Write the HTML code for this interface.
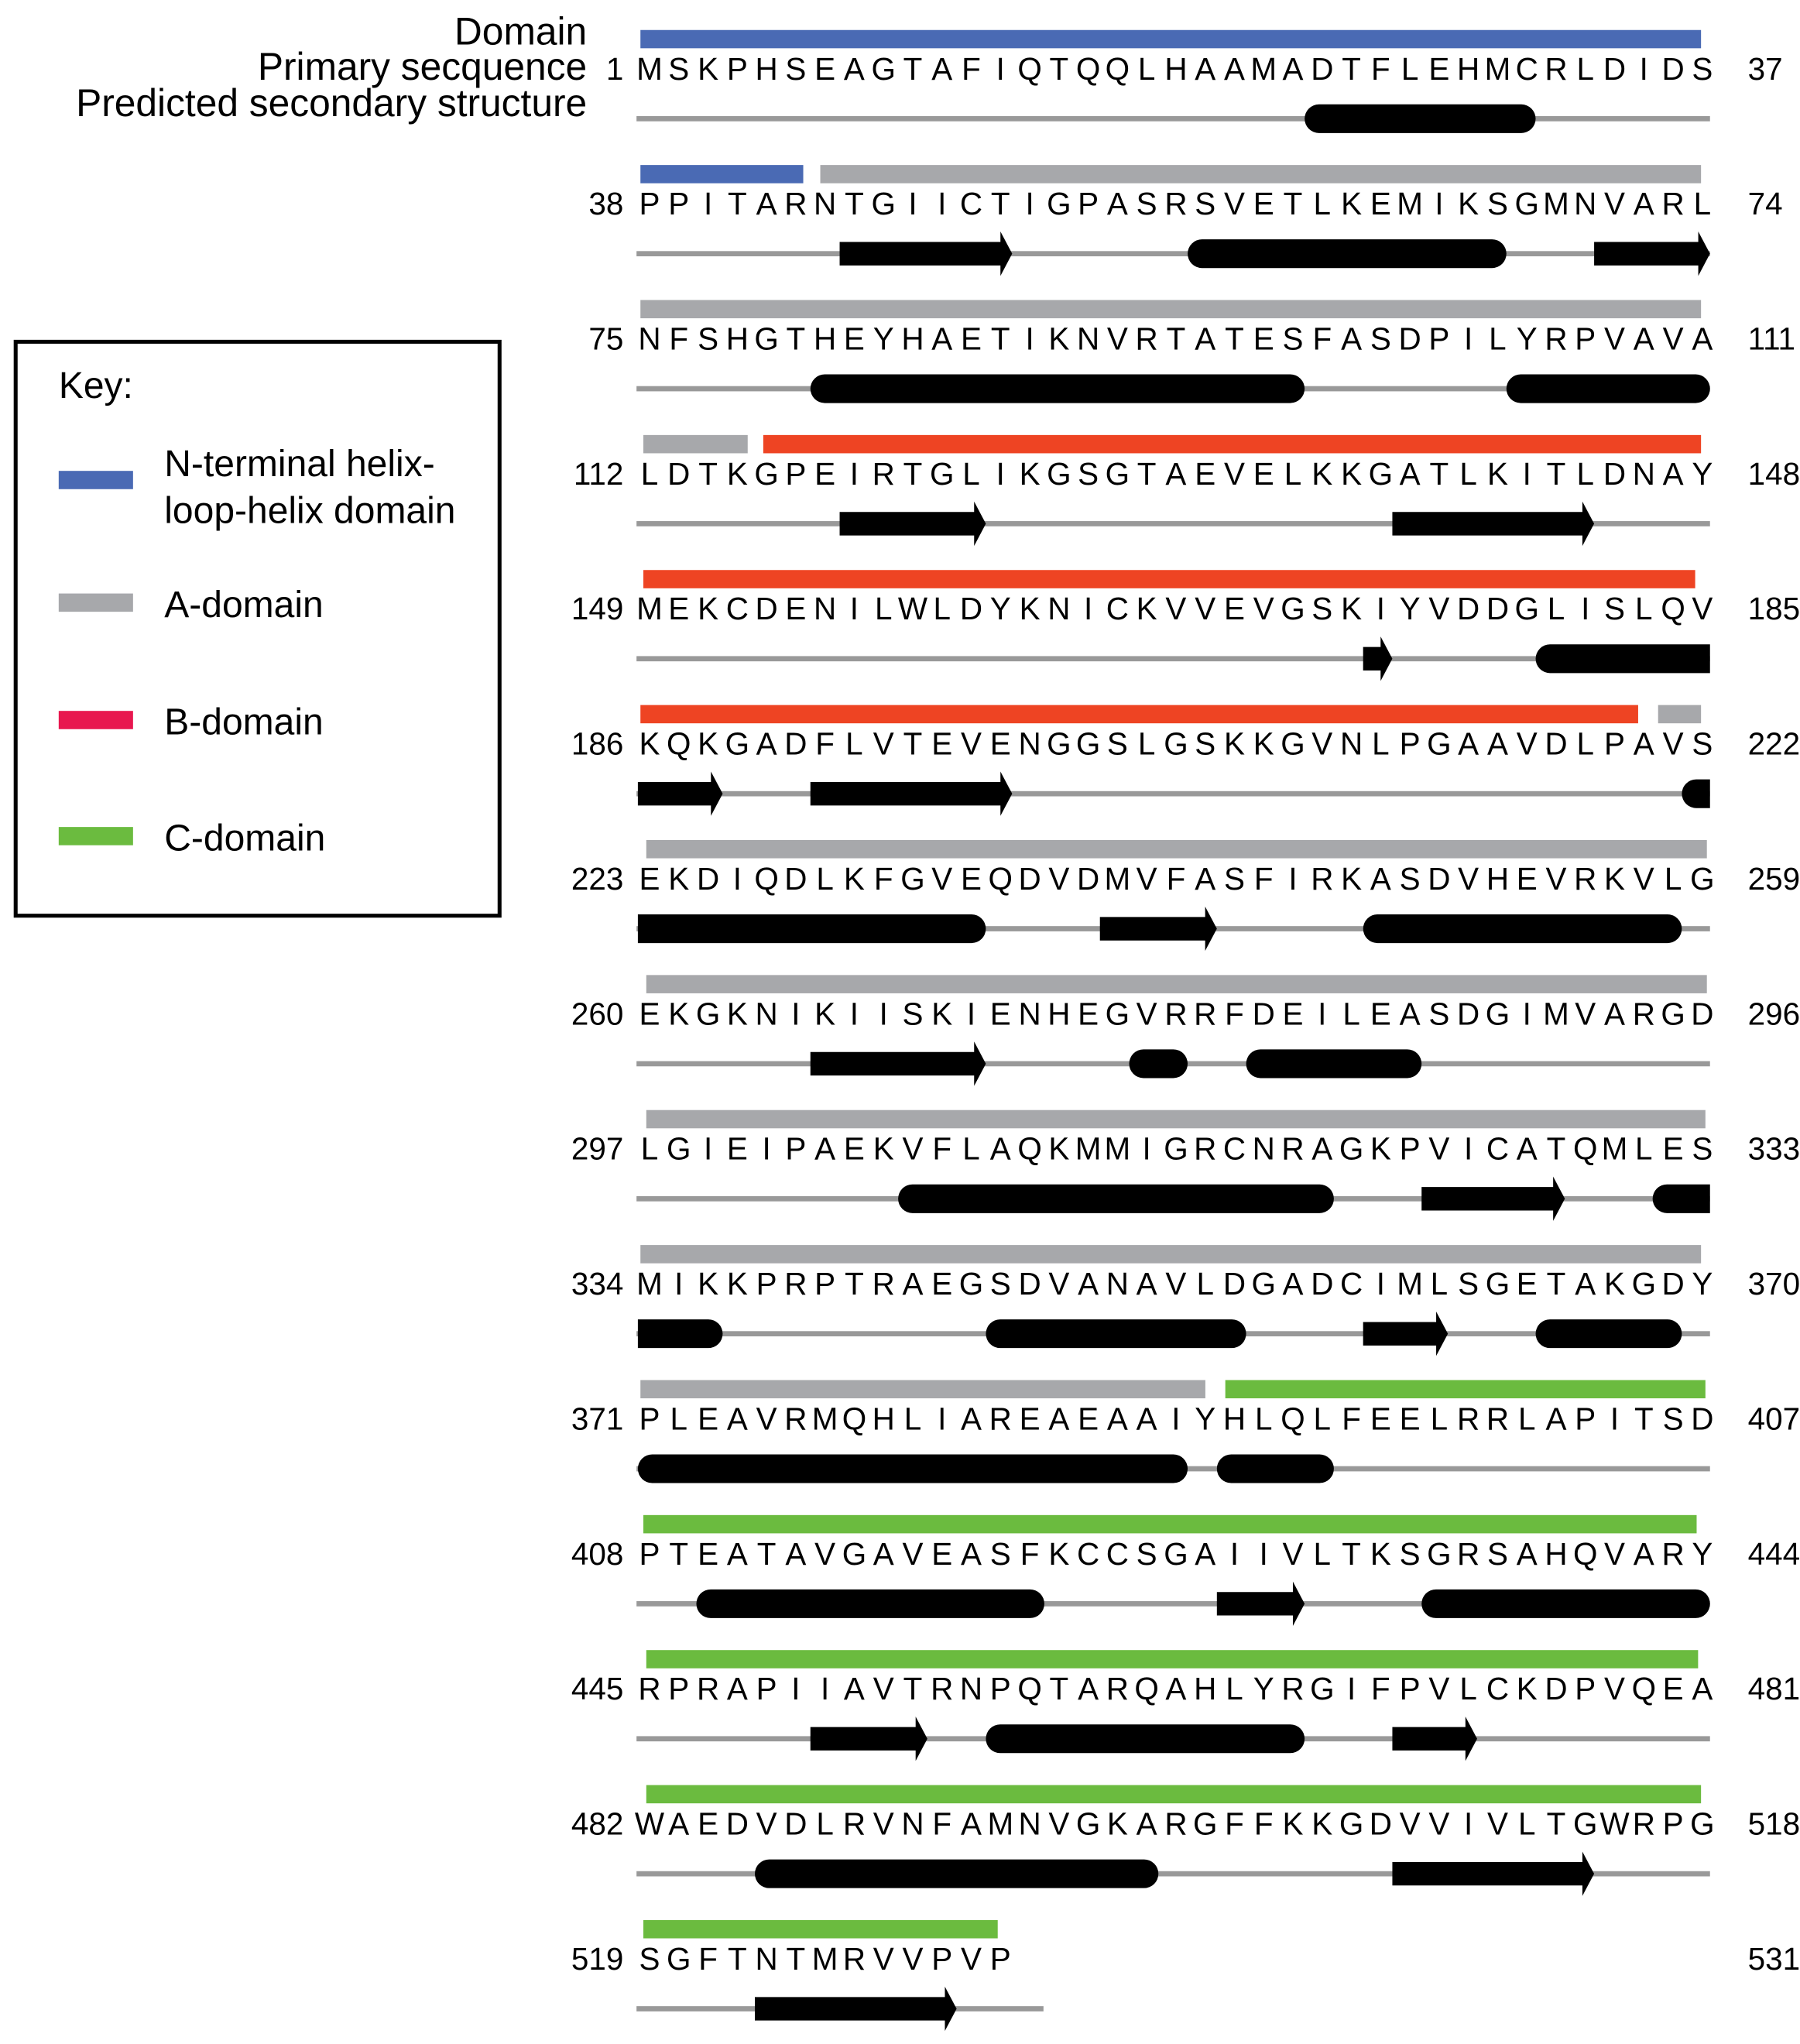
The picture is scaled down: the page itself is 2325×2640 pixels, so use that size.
<!DOCTYPE html>
<html><head><meta charset="utf-8"><style>html,body{margin:0;padding:0;background:#fff}svg{display:block}text{font-family:"Liberation Sans",sans-serif}</style></head>
<body>
<svg id="fig" width="2325" height="2640" viewBox="0 0 1380 1567" preserveAspectRatio="none" xmlns="http://www.w3.org/2000/svg">
<g font-size="29.5" text-anchor="end">
<text x="450" y="34">Domain</text>
<text x="450" y="61">Primary secquence</text>
<text x="450" y="89">Predicted secondary structure</text>
</g>
<g font-size="28.5">
<rect x="12" y="262" width="371" height="440" fill="none" stroke="#000" stroke-width="3"/>
<text x="45" y="305">Key:</text>
<rect x="45" y="361" width="57" height="14" fill="#4a6ab4"/>
<text x="126" y="365">N-terminal helix-</text>
<text x="126" y="401">loop-helix domain</text>
<rect x="45" y="455" width="57" height="14" fill="#a7a8ab"/>
<text x="126" y="473">A-domain</text>
<rect x="45" y="545" width="57" height="14" fill="#e8174f"/>
<text x="126" y="563">B-domain</text>
<rect x="45" y="634" width="57" height="14" fill="#6bbb3f"/>
<text x="126" y="652">C-domain</text>
</g>
<g id="rows"></g>
</svg>
<script>
const rowStarts=[1,38,75,112,149,186,223,260,297,334,371,408,445,482,519];
const sequences=["MSKPHSEAGTAFIQTQQLHAAMADTFLEHMCRLDIDS","PPITARNTGIICTIGPASRSVETLKEMIKSGMNVARL","NFSHGTHEYHAETIKNVRTATESFASDPILYRPVAVA","LDTKGPEIRTGLIKGSGTAEVELKKGATLKITLDNAY","MEKCDENILWLDYKNICKVVEVGSKIYVDDGLISLQV","KQKGADFLVTEVENGGSLGSKKGVNLPGAAVDLPAVS","EKDIQDLKFGVEQDVDMVFASFIRKASDVHEVRKVLG","EKGKNIKIISKIENHEGVRRFDEILEASDGIMVARGD","LGIEIPAEKVFLAQKMMIGRCNRAGKPVICATQMLES","MIKKPRPTRAEGSDVANAVLDGADCIMLSGETAKGDY","PLEAVRMQHLIAREAEAAIYHLQLFEELRRLAPITSD","PTEATAVGAVEASFKCCSGAIIVLTKSGRSAHQVARY","RPRAPIIAVTRNPQTARQAHLYRGIFPVLCKDPVQEA","WAEDVDLRVNFAMNVGKARGFFKKGDVVIVLTGWRPG","SGFTNTMRVVPVP"];
const rowEnds=[37,74,111,148,185,222,259,296,333,370,407,444,481,518,531];
// domain segments: [row, startResidue, endResidue, domain]
const domainSegments=[[0,1,37,"N"],[1,38,43.3,"N"],[1,44.15,74,"A"],[2,75,111,"A"],[3,112.1,115.4,"A"],[3,116.2,148,"B"],[4,149.1,184.8,"B"],[5,186,219.85,"B"],[5,220.8,222,"A"],[6,223.2,259.2,"A"],[7,260.2,296.2,"A"],[8,297.2,333.15,"A"],[9,334,370,"A"],[10,371,390.05,"A"],[10,391,407.15,"C"],[11,408.1,443.85,"C"],[12,445.2,480.9,"C"],[13,482.2,518,"C"],[14,519.1,530.95,"C"]];
// secondary structure: [row, start, end, type]  H=helix, E=strand, HL=helix flat-left, HR=helix flat-right
const structures=[[0,23.4,31.3,"H"],[1,44.5,50.4,"E"],[1,56.4,67.3,"H"],[1,70.3,74.4,"E"],[2,80.5,97.4,"H"],[2,104.3,111.4,"H"],[3,118.5,123.5,"E"],[3,137.4,144.3,"E"],[4,173.4,174.4,"E"],[4,179.3,185.4,"HR"],[5,185.6,188.5,"E"],[5,191.5,198.4,"E"],[5,221.3,222.4,"HR"],[6,222.6,234.5,"HL"],[6,238.4,242.4,"E"],[6,247.4,258.3,"H"],[7,265.5,271.5,"E"],[7,276.4,278.4,"H"],[7,280.4,286.4,"H"],[8,305.5,320.4,"H"],[8,323.4,328.3,"E"],[8,331.3,333.4,"HR"],[9,333.6,336.5,"HL"],[9,345.5,354.4,"H"],[9,358.4,361.3,"E"],[9,364.3,369.3,"H"],[10,370.6,389.4,"H"],[10,390.4,394.4,"H"],[11,409.6,421.5,"H"],[11,427.4,430.4,"E"],[11,434.4,444.4,"H"],[12,450.5,454.5,"E"],[12,456.5,467.4,"H"],[12,470.4,473.3,"E"],[13,485.6,499.4,"H"],[13,507.4,514.3,"E"],[14,522.6,529.5,"E"]];
const colors={N:"#4a6ab4",A:"#a7a8ab",B:"#ee4423",C:"#6bbb3f"};
const NS="http://www.w3.org/2000/svg";
const g=document.getElementById('rows');
const STEP=22.42,X0=498;
function xOf(r,res){return X0+(res-rowStarts[r])*STEP;}
function yTop(r){return 23+103.5*r;}
function mk(tag,attrs,parent){const e=document.createElementNS(NS,tag);for(const k in attrs)e.setAttribute(k,attrs[k]);(parent||g).appendChild(e);return e;}
rowStarts.forEach((s,r)=>{
  const y=yTop(r);
  const t1=mk('text',{x:478,y:y+38,'font-size':24,'text-anchor':'end'});t1.textContent=s;
  
  
  const t2=mk('text',{x:1340,y:y+38,'font-size':24});t2.textContent=rowEnds[r];
  
  
  [...sequences[r]].forEach((c,i)=>{
    const t=mk('text',{x:X0+i*STEP,y:y+38,'font-size':24,'text-anchor':'middle'});t.textContent=c;
    
    
  });
  const end=r===14?800:1311;
  const l=mk('rect',{x:488,y:y+66,width:end-488,height:4,fill:'#999'});
  
  
});
domainSegments.forEach(([r,a,b,d])=>{
  const x1=xOf(r,a)-7,x2=xOf(r,b)-1;
  const e=mk('rect',{x:x1,y:yTop(r),width:x2-x1,height:14,fill:colors[d]});
  
  
});
structures.forEach(([r,a,b,t])=>{
  const x1=xOf(r,a),x2=Math.min(xOf(r,b),1311),cy=yTop(r)+68;
  let e;
  if(t==="E"){
    const hx=x2-9;
    e=mk('path',{d:`M${x1},${cy-9}H${hx}V${cy-17}L${x2},${cy}L${hx},${cy+17}V${cy+9}H${x1}Z`,fill:'#000'});
    
  } else {
    const rl=t==="HL"?0:11, rr=t==="HR"?0:11;
    e=mk('path',{d:`M${x1+rl},${cy-11}H${x2-rr}`+(rr?`A11,11 0 0 1 ${x2-rr},${cy+11}`:`V${cy+11}`)+`H${x1+rl}`+(rl?`A11,11 0 0 1 ${x1+rl},${cy-11}`:`V${cy-11}`)+'Z',fill:'#000'});
    
  }
  
});
</script>
</body></html>
